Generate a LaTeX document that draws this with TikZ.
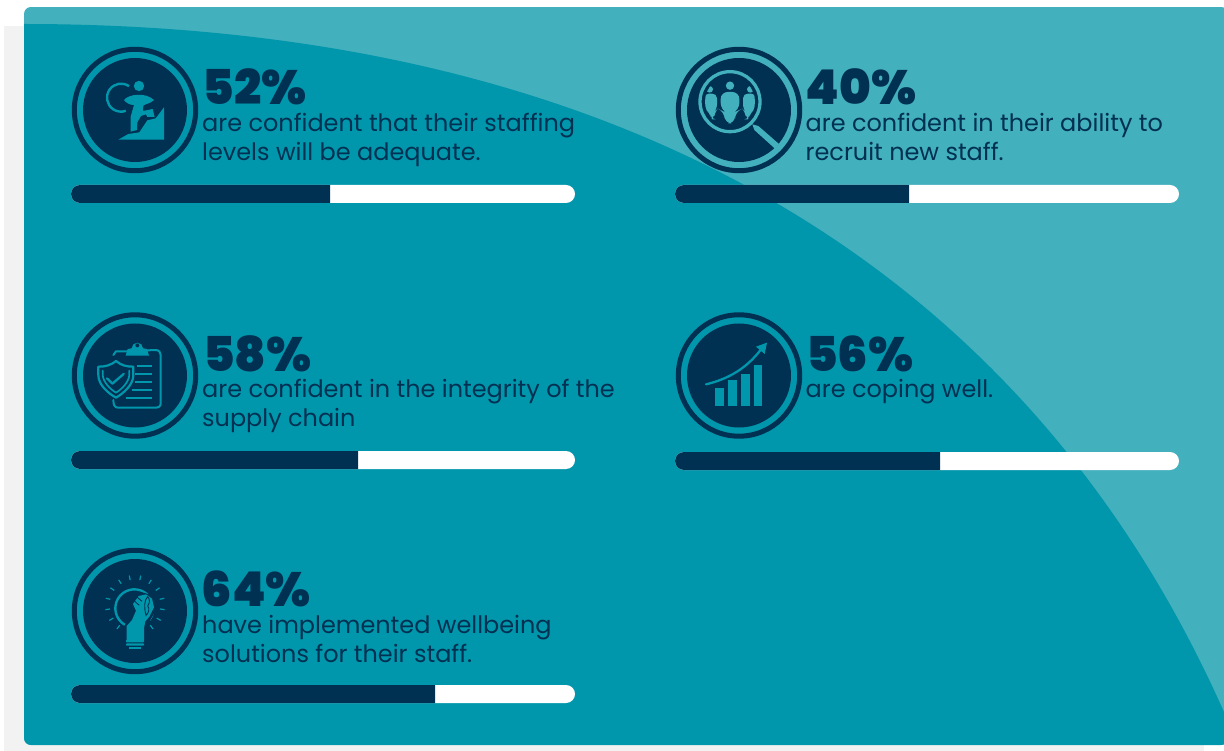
\documentclass[tikz,border=0pt]{standalone}
\usepackage{fontspec}
\setmainfont{Poppins}
\newfontfamily\heavyf{Poppins Black}
\definecolor{lightteal}{HTML}{43B0BD}
\definecolor{teal0}{HTML}{0097AC}
\definecolor{navy0}{HTML}{003052}
\definecolor{grey0}{HTML}{F2F2F2}
\tikzset{
  pct/.style={anchor=base west,inner sep=0pt,text=navy0,font=\heavyf\fontsize{48}{48}\selectfont},
  body/.style={anchor=base west,inner sep=0pt,text=navy0,font=\fontsize{23.95}{29}\selectfont},
  ico/.style={fill=teal0,draw=none},
  icl/.style={draw=teal0,line width=2.3,line cap=round,line join=round,fill=none},
}
\newcommand{\badge}[2]{%
  \fill[navy0] (#1,#2) circle[radius=52];
  \draw[navy0,line width=5] (#1,#2) circle[radius=60.7];
}
\newcommand{\barbox}[3]{% x, y, navy end
  \fill[white,rounded corners=9] (#1,#2) rectangle ++(504,18);
  \fill[navy0] (#3,#2) -- ({#1+9},#2) arc[start angle=-90,end angle=-270,radius=9] -- (#3,#2+18) -- cycle;
}
\begin{document}
\begin{tikzpicture}[x=1pt,y=-1pt]
\useasboundingbox (0,0) rectangle (1224,751);
\fill[white] (0,0) rectangle (1224,751);
\fill[grey0] (4,26) rectangle (40,751);
\fill[grey0] (4,740) rectangle (1204,751);
\begin{scope}
  \clip[rounded corners=7] (24,7) rectangle (1228,745);
  \fill[lightteal] (24,7) rectangle (1228,745);
  \fill[teal0] (24,24) .. controls (613,24) and (1024,262) .. (1224,712) -- (1240,750) -- (24,750) -- cycle;
\end{scope}

% bars
\barbox{71}{185}{330}
\barbox{675}{185}{909}
\barbox{71}{451}{358}
\barbox{675}{452}{940}
\barbox{71}{685}{435}

% badges
\badge{135}{110}
\badge{739}{110}
\badge{135}{375.5}
\badge{739}{375.5}
\badge{135}{611}

% icon 1 : climber
\begin{scope}[shift={(60,35)},scale=1/3]
  \draw[icl,line width=2.4,line cap=butt] (183,188) ++(-55:42) arc[start angle=-55,end angle=-290,radius=42];
  \fill[navy0] (237,153) circle[radius=20];
  \fill[ico] (237,153) circle[radius=15.5];
  \fill[navy0] (185,192) -- (240,170) -- (290,195) -- (255,215) -- (225,215) -- cycle;
  \fill[ico] (192,195) .. controls (205,178) and (255,170) .. (282,195) .. controls (270,207) and (258,205) .. (250,212) -- (249,228) -- (278,222) -- (284,246) -- (262,246) -- (258,238) -- (243,243) -- (232,262) -- (231,285) -- (212,290) -- (212,245) -- (222,210) .. controls (210,210) and (200,205) .. (192,195) -- cycle;
  \fill[ico] (175,314) -- (205,297) -- (238,292) -- (262,256) -- (287,250) -- (300,233) -- (312,217) -- (312,314) -- cycle;
\end{scope}

% icon 2 : magnifier
\begin{scope}[shift={(695,70)},scale=1/3]
  \fill[navy0] (105,95) circle[radius=90];
  \draw[lightteal,line width=3.3] (105,95) circle[radius=90];
  \fill[lightteal] (172,163) -- (190,168) -- (252,222) -- (240,236) -- (178,180) -- cycle;
  \begin{scope}
    \clip (105,95) circle[radius=75];
    \fill[lightteal] (105,47) circle[radius=12.5];
    \fill[lightteal,rounded corners=7] (77,66) -- (133,66) -- (133,120) -- (120,126) -- (120,160) -- (89,160) -- (89,126) -- (77,120) -- cycle;
    \fill[lightteal] (44,58) circle[radius=10];
    \fill[lightteal] (166,58) circle[radius=10];
    \fill[lightteal,rounded corners=5] (25,72) -- (66,70) -- (66,118) -- (60,124) -- (57,148) -- (47,148) -- (44,126) -- (25,115) -- cycle;
    \fill[lightteal,rounded corners=5] (185,72) -- (144,70) -- (144,118) -- (150,124) -- (153,148) -- (163,148) -- (166,126) -- (185,115) -- cycle;
  \end{scope}
\end{scope}

% icon 3 : clipboard and shield
\begin{scope}[shift={(60,305)},scale=1/3]
  \draw[icl,line width=2] (160,150) -- (168,139) -- (205,139) -- (285,135) .. controls (298,135) and (302,142) .. (302,150) -- (302,295) .. controls (302,305) and (295,308) .. (285,308) -- (175,308) .. controls (165,308) and (160,302) .. (160,285);
  \fill[ico] (197,152) -- (203,132) -- (215,130) arc[start angle=180,end angle=360,radius=17] -- (261,132) -- (267,152) -- cycle;
  \fill[navy0] (232,121) circle[radius=6];
  \draw[icl,line width=2.2,fill=navy0] (168,168) .. controls (150,182) and (135,185) .. (115,185) -- (115,210) .. controls (115,240) and (145,265) .. (168,278) .. controls (190,265) and (220,240) .. (220,210) -- (220,185) .. controls (200,185) and (185,182) .. (168,168) -- cycle;
  \draw[icl,line width=1.7] (128,197) -- (128,210) .. controls (130,232) and (150,252) .. (168,263) .. controls (186,252) and (206,232) .. (208,210) -- (208,197);
  \draw[icl,line width=2.3] (141,220) -- (157,236) -- (191,207);
  \draw[icl,line width=2.2,line cap=butt] (232,183) -- (275,183);
  \draw[icl,line width=2.2,line cap=butt] (226,207) -- (275,207);
  \draw[icl,line width=2.2,line cap=butt] (224,231) -- (275,231);
  \draw[icl,line width=2.2,line cap=butt] (215,255) -- (275,255);
  \draw[icl,line width=2.2,line cap=butt] (198,279) -- (275,279);
\end{scope}

% icon 4 : growth chart
\begin{scope}[shift={(665,305)},scale=1/3]
  \fill[ico] (150,250) rectangle (176,303);
  \fill[ico] (189,226) rectangle (215,303);
  \fill[ico] (228,206) rectangle (254,303);
  \fill[ico] (266,180) rectangle (292,303);
  \draw[icl,line width=2.3] (123,238) .. controls (190,222) and (245,190) .. (288,133);
  \fill[ico] (306,113) -- (299,147) -- (273,125) -- cycle;
\end{scope}

% icon 5 : bulb and hand
\begin{scope}[shift={(60,540)},scale=1/3]
  \draw[icl,line width=2.4,line cap=butt] (223,205) ++(120:57) arc[start angle=120,end angle=400,radius=57];
  \fill[navy0] (205,262) -- (225,205) -- (240,155) -- (290,170) -- (285,215) -- (258,262) -- cycle;
  \fill[ico] (200,300) -- (200,258) -- (216,240) -- (228,212) -- (219,192) -- (236,168) -- (258,163) -- (276,176) -- (282,202) -- (268,230) -- (256,244) -- (252,265) -- (252,300) -- cycle;
  \draw[navy0,line width=0.9,fill=teal0] (263,198) .. controls (272,185) and (268,175) .. (263,170) .. controls (252,180) and (252,205) .. (258,226) .. controls (266,220) and (270,205) .. (263,198) -- cycle;
  \draw[navy0,line width=0.9] (232,172) -- (246,184);
  \draw[navy0,line width=0.9] (224,184) -- (238,196);
  \fill[ico,rounded corners=0.7] (198,300) rectangle (252,307);
  \fill[ico,rounded corners=0.7] (198,310) rectangle (252,317);
  \fill[ico] (207,320) rectangle (243,327);
  \foreach \a in {-101,-79,-57,-35,-13,9,31,53,-123,-145,-167,-189,-211,-233} {
    \draw[draw=teal0,line width=1.2] (225,195) ++(\a:76) -- ++(\a:14);
  }
\end{scope}

% text
\node[pct] (p1) at (202.5,104.5) {52\%};
\node[body] (t1a) at (202,132) {are confident that their staffing};
\node[body] (t1b) at (202,161) {levels will be adequate.};
\node[pct] (p2) at (805.5,104.5) {40\%};
\node[body] (t2a) at (805.5,132) {are confident in their ability to};
\node[body] (t2b) at (805.5,161) {recruit new staff.};
\node[pct] (p3) at (203,371) {58\%};
\node[body] (t3a) at (202,398) {are confident in the integrity of the};
\node[body] (t3b) at (202,426) {supply chain};
\node[pct] (p4) at (806,371) {56\%};
\node[body] (t4a) at (805.5,398) {are coping well.};
\node[pct] (p5) at (201.5,606) {64\%};
\node[body] (t5a) at (202,633) {have implemented wellbeing};
\node[body] (t5b) at (202,662) {solutions for their staff.};
\end{tikzpicture}
\end{document}
